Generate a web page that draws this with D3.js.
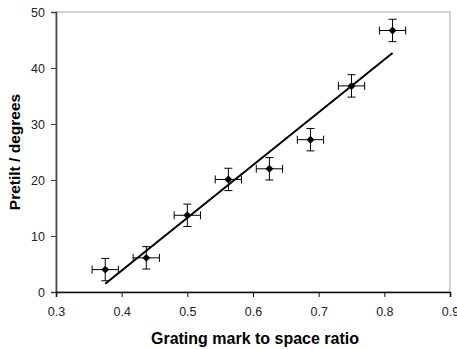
<!DOCTYPE html>
<html>
<head>
<meta charset="utf-8">
<script src="https://cdn.jsdelivr.net/npm/d3@7"></script>
<style>
  body { margin: 0; background: #fff; }
  text { font-family: "Liberation Sans", Arial, sans-serif; }
</style>
</head>
<body>
<svg id="chart" width="457" height="349"></svg>
<script>
// Data
const ratio = [0.375, 0.4375, 0.5, 0.5625, 0.625, 0.6875, 0.75, 0.8125];
const pretilt = [4.0, 6.1, 13.7, 20.1, 22.0, 27.2, 36.8, 46.7];
const xErr = [0.02, 0.02, 0.02, 0.02, 0.02, 0.02, 0.02, 0.02];
const yErr = [2, 2, 2, 2, 2, 2, 2, 2];
const xTicks = [0.3, 0.4, 0.5, 0.6, 0.7, 0.8, 0.9];
const yTicks = [0, 10, 20, 30, 40, 50];

const width = 457, height = 349;
const margin = { top: 12, right: 7, bottom: 57, left: 56 };
const svg = d3.select("#chart");

const x = d3.scaleLinear().domain([0.3, 0.9]).range([margin.left, width - margin.right]);
const y = d3.scaleLinear().domain([0, 50]).range([height - margin.bottom, margin.top]);

// plot border (top/right grey)
svg.append("rect")
    .attr("x", x(0.3))
    .attr("y", y(50))
    .attr("width", x(0.9) - x(0.3))
    .attr("height", y(0) - y(50))
    .attr("fill", "none")
    .attr("stroke", "#b4b4b4")
    .attr("stroke-width", 1.2);

// y axis
const yAxis = svg.append("g")
    .attr("transform", `translate(${x(0.3)},0)`)
    .call(d3.axisLeft(y).tickValues(yTicks).tickSize(5).tickPadding(6).tickFormat(d3.format("d")));
yAxis.select(".domain").attr("stroke", "#444").attr("stroke-width", 1.6);
yAxis.selectAll(".tick line").attr("stroke", "#444");
yAxis.selectAll("text").attr("fill", "#222").style("font-size", "12.5px");

// x axis
const xAxis = svg.append("g")
    .attr("transform", `translate(0,${y(0)})`)
    .call(d3.axisBottom(x).tickValues(xTicks).tickSize(5).tickPadding(10).tickFormat(d3.format(".1f")));
xAxis.select(".domain").attr("stroke", "#111").attr("stroke-width", 1.6);
xAxis.selectAll(".tick line").attr("stroke", "#111");
xAxis.selectAll("text").attr("fill", "#222").style("font-size", "12.5px");

// axis titles
svg.append("text")
    .attr("x", 255)
    .attr("y", 344)
    .attr("text-anchor", "middle")
    .style("font-size", "16px")
    .style("font-weight", "bold")
    .text("Grating mark to space ratio");

svg.append("text")
    .attr("transform", `translate(20,${(y(0) + y(50)) / 2}) rotate(-90)`)
    .attr("text-anchor", "middle")
    .style("font-size", "15.5px")
    .style("font-weight", "bold")
    .text("Pretilt / degrees");

// least squares trend line
const mx = d3.mean(ratio), my = d3.mean(pretilt);
const sxy = d3.sum(ratio, (v, i) => (v - mx) * (pretilt[i] - my));
const sxx = d3.sum(ratio, v => (v - mx) * (v - mx));
const slope = sxy / sxx, icpt = my - slope * mx;
const x0 = d3.min(ratio), x1 = d3.max(ratio);
svg.append("line")
    .attr("x1", x(x0)).attr("y1", y(icpt + slope * x0))
    .attr("x2", x(x1)).attr("y2", y(icpt + slope * x1))
    .attr("stroke", "#000")
    .attr("stroke-width", 2);

// error bars
const pts = ratio.map((r, i) => ({ r, p: pretilt[i], ex: xErr[i], ey: yErr[i] }));
const cap = 4;
const eb = svg.append("g").attr("stroke", "#000").attr("stroke-width", 1);
pts.forEach(d => {
    eb.append("line").attr("x1", x(d.r - d.ex)).attr("x2", x(d.r + d.ex)).attr("y1", y(d.p)).attr("y2", y(d.p));
    eb.append("line").attr("x1", x(d.r - d.ex)).attr("x2", x(d.r - d.ex)).attr("y1", y(d.p) - cap).attr("y2", y(d.p) + cap);
    eb.append("line").attr("x1", x(d.r + d.ex)).attr("x2", x(d.r + d.ex)).attr("y1", y(d.p) - cap).attr("y2", y(d.p) + cap);
    eb.append("line").attr("x1", x(d.r)).attr("x2", x(d.r)).attr("y1", y(d.p - d.ey)).attr("y2", y(d.p + d.ey));
    eb.append("line").attr("x1", x(d.r) - cap).attr("x2", x(d.r) + cap).attr("y1", y(d.p - d.ey)).attr("y2", y(d.p - d.ey));
    eb.append("line").attr("x1", x(d.r) - cap).attr("x2", x(d.r) + cap).attr("y1", y(d.p + d.ey)).attr("y2", y(d.p + d.ey));
});

// diamond markers
svg.append("g").selectAll("path")
    .data(pts)
    .join("path")
    .attr("transform", d => `translate(${x(d.r)},${y(d.p)})`)
    .attr("d", d3.symbol(d3.symbolDiamond2, 40))
    .attr("fill", "#000");
</script>
</body>
</html>
